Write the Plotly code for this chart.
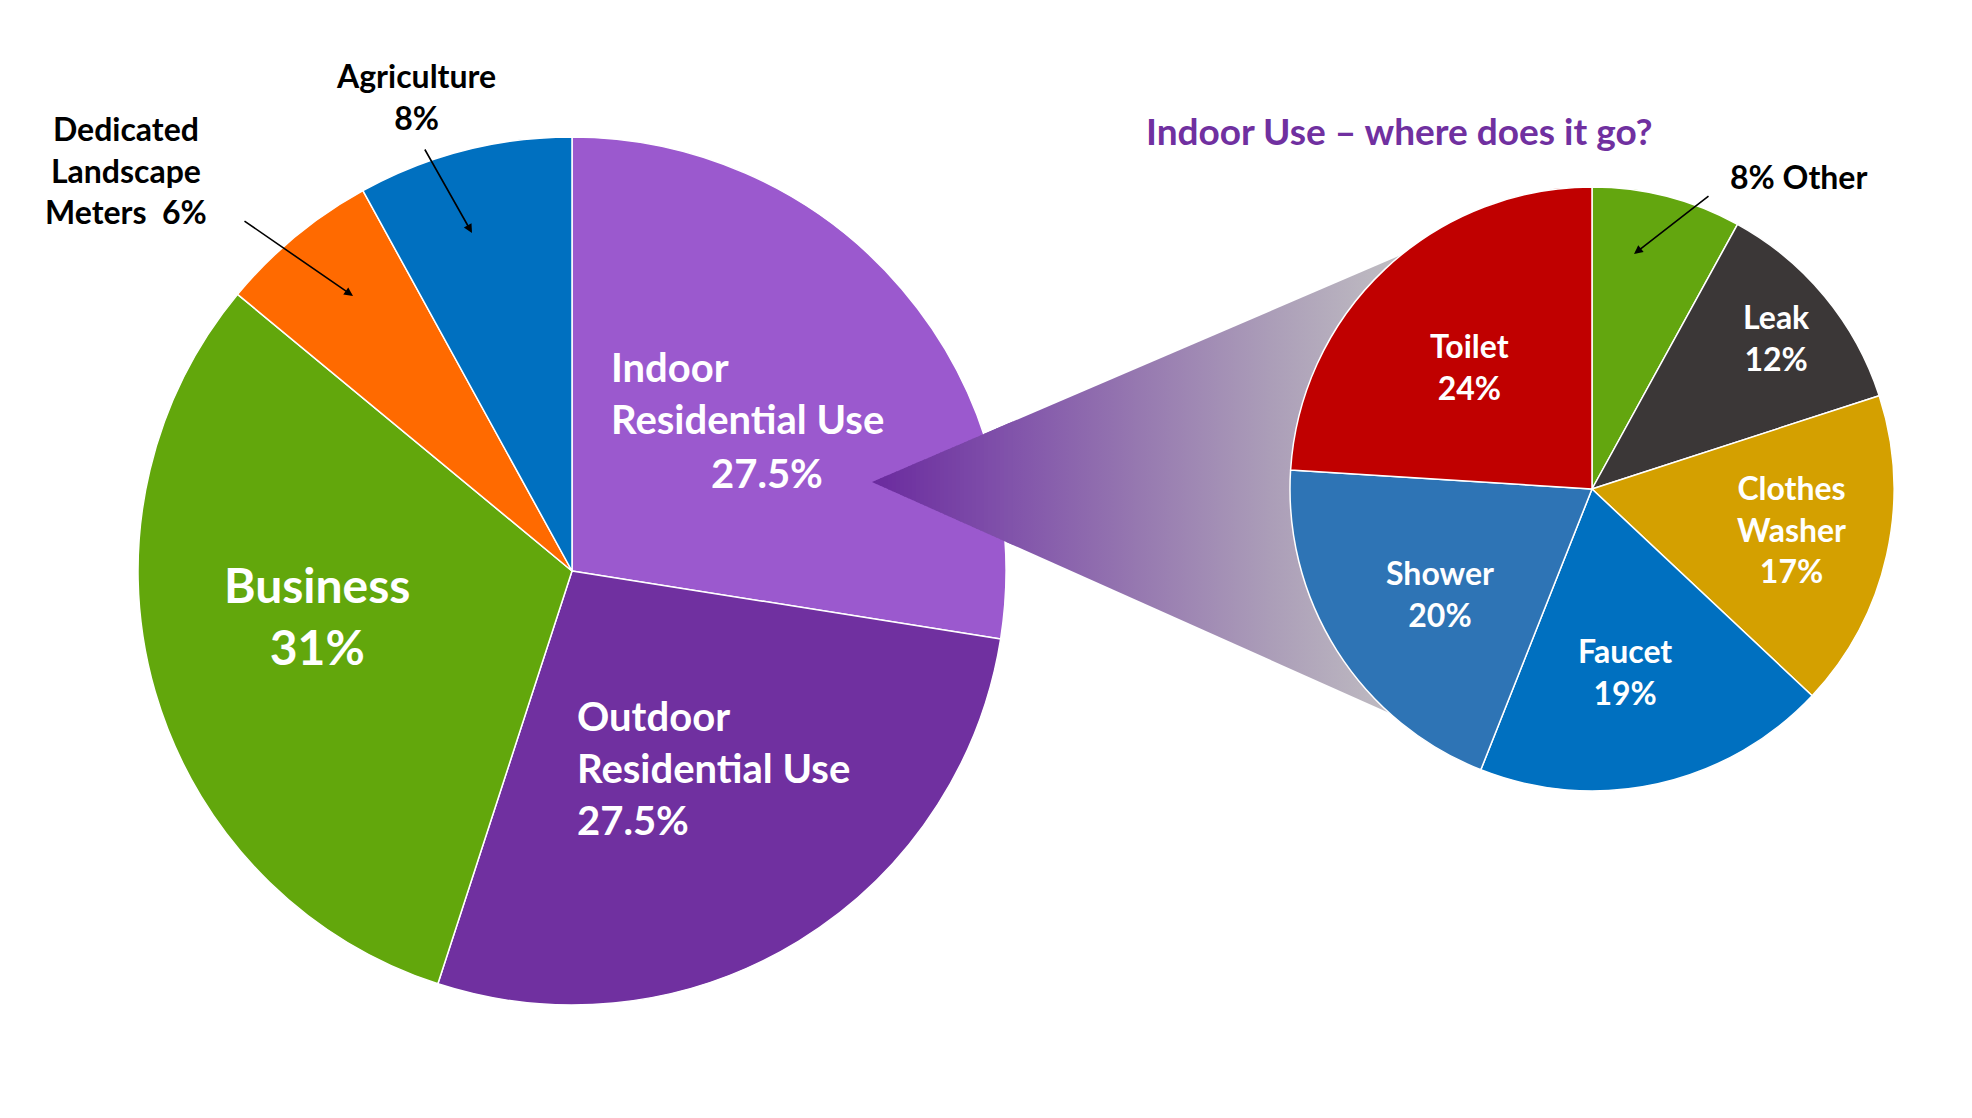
import plotly.graph_objects as go

# ---------------- data ----------------
main_labels = ["Indoor Residential Use", "Outdoor Residential Use", "Business",
               "Dedicated Landscape Meters", "Agriculture"]
main_values = [27.5, 27.5, 31, 6, 8]
main_colors = ["#9B59CE", "#7030A0", "#62A70C", "#FF6A00", "#0070C0"]

indoor_labels = ["Other", "Leak", "Clothes Washer", "Faucet", "Shower", "Toilet"]
indoor_values = [8, 12, 17, 19, 20, 24]
indoor_colors = ["#63A60F", "#3B3737", "#D4A000", "#0070C0", "#2E74B5", "#C00000"]

title_text = "Indoor Use \u2013 where does it go?"

# ---------------- layout geometry (pixels) ----------------
W, H = 1972, 1118
MAIN_C, MAIN_R = (572, 571), 434
SUB_C, SUB_R = (1592, 489), 302
TIP = (872, 482)
UP_Y, LO_Y = 255, 713
FONT = "Lato"


def dom(c, r):
    return dict(x=[(c[0] - r) / W, (c[0] + r) / W],
                y=[1 - (c[1] + r) / H, 1 - (c[1] - r) / H])


def circle_left_x(y):
    dy = y - SUB_C[1]
    return SUB_C[0] - (SUB_R ** 2 - dy ** 2) ** 0.5


UP = (circle_left_x(UP_Y), UP_Y)
LO = (circle_left_x(LO_Y), LO_Y)

grad = [[0.0, "#6A2A9E"], [0.25, "#8051AA"], [0.5, "#9678B0"],
        [0.75, "#AB9DB8"], [1.0, "#C0BEC2"]]


def hex2rgb(h):
    h = h.lstrip("#")
    return tuple(int(h[i:i + 2], 16) for i in (0, 2, 4))


def grad_color(t):
    t = max(0.0, min(1.0, t))
    for (p0, c0), (p1, c1) in zip(grad[:-1], grad[1:]):
        if p0 <= t <= p1:
            f = (t - p0) / (p1 - p0)
            a, b = hex2rgb(c0), hex2rgb(c1)
            return "rgb(%d,%d,%d)" % tuple(round(a[i] + (b[i] - a[i]) * f) for i in range(3))
    return grad[-1][1]


fig = go.Figure()

# connector (below the pies)
fig.add_trace(go.Scatter(
    x=[TIP[0], UP[0], LO[0], TIP[0]], y=[TIP[1], UP[1], LO[1], TIP[1]],
    mode="lines", line=dict(width=0), fill="toself",
    fillgradient=dict(type="horizontal", colorscale=grad, start=TIP[0], stop=UP[0]),
    hoverinfo="skip", showlegend=False))

fig.add_trace(go.Pie(
    labels=main_labels, values=main_values, sort=False, direction="clockwise",
    rotation=0, marker=dict(colors=main_colors, line=dict(color="white", width=1.5)),
    textinfo="none", hoverinfo="label+percent", domain=dom(MAIN_C, MAIN_R),
    showlegend=False))

fig.add_trace(go.Pie(
    labels=indoor_labels, values=indoor_values, sort=False, direction="clockwise",
    rotation=0, marker=dict(colors=indoor_colors, line=dict(color="white", width=1.5)),
    textinfo="none", hoverinfo="label+percent", domain=dom(SUB_C, SUB_R),
    showlegend=False))

# part of the connector lying over the main pie: gradient strips above
shapes = []
span = UP[0] - TIP[0]


def yu(xx):
    return TIP[1] + (xx - TIP[0]) * (UP[1] - TIP[1]) / (UP[0] - TIP[0])


def yl(xx):
    return TIP[1] + (xx - TIP[0]) * (LO[1] - TIP[1]) / (LO[0] - TIP[0])


x = TIP[0]
step = 4
while x < 1010:
    x1 = x + step
    xe = x1 + 0.8
    path = "M %.2f %.2f L %.2f %.2f L %.2f %.2f L %.2f %.2f Z" % (
        x, yu(x), xe, yu(xe), xe, yl(xe), x, yl(x))
    shapes.append(dict(type="path", path=path, xref="x", yref="y", layer="above",
                       fillcolor=grad_color(((x + x1) / 2 - TIP[0]) / span),
                       line=dict(width=0)))
    x = x1

annotations = []


def label(text, x, y, size, color="white", xanchor="center", align="center"):
    annotations.append(dict(text=text, x=x, y=y, xref="x", yref="y", showarrow=False,
                            xanchor=xanchor, yanchor="middle", align=align,
                            font=dict(family=FONT, size=size, color=color, weight="bold")))


def arrow(x, y, ax, ay):
    annotations.append(dict(text="", x=x, y=y, ax=ax, ay=ay, xref="x", yref="y",
                            axref="x", ayref="y", showarrow=True, arrowhead=2,
                            arrowsize=1.1, arrowwidth=1.6, arrowcolor="black"))


def pct(v):
    return "%g%%" % v


# main pie labels
label("Indoor<br>" + main_labels[0].split(" ", 1)[1], 609, 393, 40, xanchor="left", align="left")
label(pct(main_values[0]), 767, 473, 40)
label("Outdoor<br>" + main_labels[1].split(" ", 1)[1] + "<br>" + pct(main_values[1]),
      575, 768, 40, xanchor="left", align="left")
label(main_labels[2] + "<br>" + pct(main_values[2]), 317, 615, 48)
label("Dedicated<br>Landscape<br>Meters\u00a0 " + pct(main_values[3]), 126, 170, 32, color="black")
label(main_labels[4] + "<br>" + pct(main_values[4]), 416, 96, 32, color="black")
arrow(353, 296, 243, 220)
arrow(472, 233, 424, 148)

# title
label(title_text, 1399, 130, 37, color="#7030A0")

# indoor pie labels
label(pct(indoor_values[0]) + " " + indoor_labels[0], 1798, 176, 32, color="black")
arrow(1634, 254, 1710, 195)
label(indoor_labels[1] + "<br>" + pct(indoor_values[1]), 1776, 337, 32)
label(indoor_labels[2].replace(" ", "<br>") + "<br>" + pct(indoor_values[2]), 1791, 529, 32)
label(indoor_labels[3] + "<br>" + pct(indoor_values[3]), 1625, 671, 32)
label(indoor_labels[4] + "<br>" + pct(indoor_values[4]), 1440, 593, 32)
label(indoor_labels[5] + "<br>" + pct(indoor_values[5]), 1469, 366, 32)

fig.update_layout(
    width=W, height=H, margin=dict(l=0, r=0, t=0, b=0),
    paper_bgcolor="white", plot_bgcolor="white",
    xaxis=dict(range=[0, W], visible=False, domain=[0, 1], fixedrange=True),
    yaxis=dict(range=[H, 0], visible=False, domain=[0, 1], fixedrange=True),
    shapes=shapes, annotations=annotations, showlegend=False,
    font=dict(family=FONT),
)

fig.write_html("out.html", config={"displayModeBar": False},
               post_script="document.body.style.margin='0';")
